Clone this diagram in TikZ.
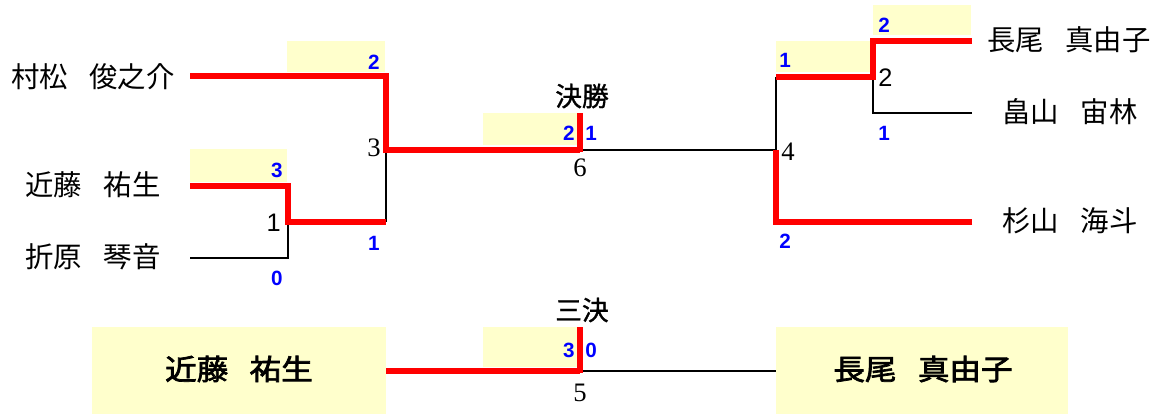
\documentclass[tikz,border=0pt]{standalone}
\usepackage{fontspec}
\setmainfont{Liberation Serif}
\newfontfamily\cjk{Noto Sans CJK JP}
\newfontfamily\cjkb[FakeBold=2.5,FakeStretch=1.1]{Noto Sans CJK JP}
\newfontfamily\cjkm[FakeBold=1.2]{Noto Sans CJK JP}
\newfontfamily\numsans{Liberation Sans}
\definecolor{boxyel}{HTML}{FFFFCC}
\definecolor{winred}{HTML}{FF0000}
\definecolor{scoreblue}{HTML}{0000FF}
\tikzset{
  pname/.style={inner sep=0pt,font=\cjk\fontsize{21.3}{21.3}\selectfont},
  bigname/.style={inner sep=0pt,font=\cjkb\fontsize{21.5}{21.5}\selectfont},
  roundtitle/.style={inner sep=0pt,font=\cjkm\fontsize{20}{20}\selectfont},
  score/.style={inner sep=0pt,text=scoreblue,font=\numsans\bfseries\fontsize{15.5}{15.5}\selectfont},
  matchno/.style={inner sep=0pt,font=\fontsize{20}{20}\selectfont},
  matchsans/.style={inner sep=0pt,font=\numsans\fontsize{19}{19}\selectfont},
  winbox/.style={fill=boxyel,draw=none},
  win/.style={draw=winred,line width=4.6pt,line cap=butt},
  lose/.style={draw=black,line width=2.2pt},
}
\begin{document}
\begin{tikzpicture}[x=0.75pt,y=-0.75pt]
\useasboundingbox (0,0) rectangle (1159,416);
% yellow boxes
\fill[winbox] (287,41) rectangle (385,72);
\fill[winbox] (190,149) rectangle (287,182);
\fill[winbox] (483,113) rectangle (577,145);
\fill[winbox] (776,41) rectangle (870,72);
\fill[winbox] (873,5) rectangle (971,35);
\fill[winbox] (483,327) rectangle (577,367);
\node[winbox,minimum width=220.5pt,minimum height=65.25pt,inner sep=0pt] (bl) at (239,370.5) {};
\node[winbox,minimum width=219pt,minimum height=65.25pt,inner sep=0pt] (br) at (922,370.5) {};

% names
\node[pname] (p1) at (93,77) {村松\hspace{0.75em}俊之介};
\node[pname] (p2) at (93,184.5) {近藤\hspace{0.75em}祐生};
\node[pname] (p3) at (93,257) {折原\hspace{0.75em}琴音};
\node[pname] (p4) at (1069,40) {長尾\hspace{0.75em}真由子};
\node[pname] (p5) at (1070,112) {畠山\hspace{0.75em}宙林};
\node[pname] (p6) at (1070,221) {杉山\hspace{0.75em}海斗};
\node[bigname] (b1) at (239,369) {近藤\hspace{0.75em}祐生};
\node[bigname] (b2) at (923,369) {長尾\hspace{0.75em}真由子};
\node[roundtitle] (t1) at (582,96) {決勝};
\node[roundtitle] (t2) at (582,310) {三決};

% bracket coordinates
\coordinate (a1) at (190,76);
\coordinate (a2) at (386,76);
\coordinate (m3) at (386,150);
\coordinate (c1) at (190,186);
\coordinate (c2) at (288,186);
\coordinate (m1) at (288,222);
\coordinate (m1r) at (386,222);
\coordinate (o1) at (190,258);
\coordinate (o2) at (288,258);
\coordinate (f) at (580,150);
\coordinate (ftop) at (580,113);
\coordinate (m4) at (776,150);
\coordinate (n1) at (972,41);
\coordinate (n2) at (873,41);
\coordinate (m2) at (873,77);
\coordinate (m2l) at (776,77);
\coordinate (h1) at (972,113);
\coordinate (h2) at (873,113);
\coordinate (s1) at (972,222);
\coordinate (s2) at (776,222);
\coordinate (g1) at (386,371);
\coordinate (g) at (580,371);
\coordinate (gtop) at (580,327);
\coordinate (g2) at (776,371);

% losing lines
\draw[lose] (m1r) -- (m3);
\draw[lose] (o1) -- (o2) -- (m1);
\draw[lose] (f) -- (m4);
\draw[lose] (m2l) -- (m4);
\draw[lose] (h1) -- (h2) -- (m2);
\draw[lose] (g) -- (g2);

% winning lines
\draw[win] (a1) -- (a2) -- (m3) -- (f);
\draw[win] (c1) -- (c2) -- (m1) -- (m1r);
\draw[win] ([yshift=-1.7pt]f) -- (ftop);
\draw[win] (n1) -- (n2) -- (m2) -- (m2l);
\draw[win] (s1) -- (s2) -- (m4);
\draw[win] (g1) -- (g);
\draw[win] ([yshift=-1.7pt]g) -- (gtop);

% scores
\node[score,anchor=east] (s2a) at (380,62) {2};
\node[score,anchor=east] (s3a) at (283,170) {3};
\node[score,anchor=east] (s1a) at (380,243) {1};
\node[score,anchor=east] (s0a) at (283,278) {0};
\node[score,anchor=east] (sf1) at (575,133) {2};
\node[score,anchor=west] (sf2) at (585,133) {1};
\node[score,anchor=west] (sr1) at (779,60) {1};
\node[score,anchor=west] (sr2) at (878,25) {2};
\node[score,anchor=west] (sr3) at (878,133) {1};
\node[score,anchor=west] (sr4) at (779,241) {2};
\node[score,anchor=east] (sb1) at (575,350) {3};
\node[score,anchor=west] (sb2) at (585,350) {0};

% match numbers
\node[matchno,anchor=east] (n3) at (381,148) {3};
\node[matchsans,anchor=east] (n1x) at (281,223) {1};
\node[matchno] (n6) at (580,168) {6};
\node[matchno,anchor=west] (n4) at (781,152) {4};
\node[matchsans,anchor=west] (n2x) at (878,78) {2};
\node[matchno] (n5) at (580,393) {5};
\end{tikzpicture}
\end{document}
